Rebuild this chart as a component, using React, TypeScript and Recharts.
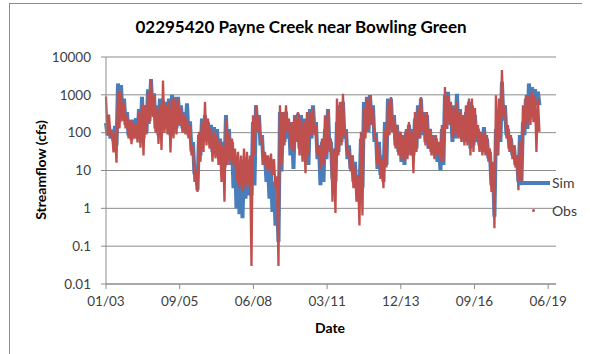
import React from 'react';
import {
  LineChart,
  Line,
  XAxis,
  YAxis,
  CartesianGrid,
} from 'recharts';

// per ~41 day step, the high and low of each series (cfs)
const simHigh = [
  180, 150, 120, 150, 2000, 1800, 800, 350, 190, 220,
  240, 420, 880, 530, 1400, 2600, 1100, 530, 800, 700,
  650, 800, 1000, 880, 880, 530, 350, 600, 200, 56,
  12, 86, 235, 290, 190, 160, 140, 125, 70, 57,
  290, 125, 57, 25, 14, 10, 14, 12, 12, 190,
  530, 290, 86, 25, 14, 10, 5.1, 1.8, 350, 290,
  354, 190, 160, 290, 320, 290, 235, 125, 420, 530,
  190, 46, 57, 125, 420, 57, 25, 190, 530, 650,
  125, 46, 25, 17, 7.5, 70, 650, 880, 980, 530,
  100, 57, 25, 190, 800, 800, 290, 160, 105, 86,
  105, 160, 125, 235, 530, 800, 350, 290, 125, 86,
  70, 46, 125, 980, 1200, 530, 530, 1060, 420, 290,
  350, 650, 530, 290, 125, 105, 140, 70, 31, 14,
  125, 420, 2200, 530, 125, 70, 46, 25, 86, 190,
  800, 2000, 1600, 1400, 1200,
];
const simLow = [
  85, 70, 60, 45, 190, 240, 160, 85, 65, 85,
  70, 55, 70, 100, 200, 310, 130, 85, 100, 130,
  130, 85, 100, 130, 200, 130, 100, 85, 32, 8,
  3, 25, 57, 70, 57, 31, 46, 25, 14, 12,
  25, 14, 3.4, 1.0, 0.7, 0.55, 1.8, 2.2, 2.2, 4,
  125, 46, 14, 5, 1.8, 0.8, 0.35, 0.13, 9.4, 57,
  70, 25, 11, 86, 38, 25, 17, 14, 70, 105,
  20, 4.1, 5, 20, 38, 6, 5, 31, 57, 70,
  20, 11, 5, 3.4, 2.2, 3.4, 105, 105, 210, 57,
  11, 7.7, 5, 14, 125, 105, 46, 31, 17, 14,
  25, 38, 25, 38, 70, 86, 57, 38, 31, 25,
  17, 10, 14, 125, 210, 57, 70, 105, 70, 57,
  57, 38, 46, 57, 46, 31, 38, 21, 4.1, 0.6,
  25, 57, 210, 86, 38, 25, 14, 5, 5, 86,
  125, 530, 650, 530, 530,
];
const obsHigh = [
  900, 300, 110, 100, 1300, 1200, 600, 300, 220, 190,
  180, 350, 550, 530, 1200, 2600, 1000, 450, 550, 2400,
  530, 650, 800, 800, 800, 450, 300, 240, 160, 45,
  10, 105, 190, 650, 235, 130, 105, 86, 57, 46,
  235, 105, 70, 38, 31, 25, 38, 31, 25, 290,
  530, 290, 70, 31, 25, 28, 20, 7, 530, 350,
  530, 235, 190, 265, 350, 235, 190, 350, 350, 450,
  160, 46, 70, 290, 390, 70, 38, 800, 650, 1060,
  105, 38, 25, 14, 7.5, 105, 450, 800, 980, 450,
  70, 46, 20, 125, 650, 880, 235, 160, 105, 86,
  125, 190, 105, 350, 450, 880, 320, 350, 125, 86,
  86, 57, 160, 1600, 980, 650, 450, 650, 350, 290,
  530, 800, 800, 450, 160, 105, 105, 86, 38, 17,
  980, 800, 4500, 530, 160, 86, 46, 25, 57, 530,
  980, 980, 1200, 980, 800,
];
const obsLow = [
  85, 75, 30, 16, 130, 200, 130, 70, 50, 70,
  55, 40, 25, 90, 170, 260, 100, 50, 35, 100,
  90, 30, 70, 90, 150, 100, 90, 70, 25, 5,
  2.7, 17, 31, 46, 38, 17, 21, 14, 5, 1.5,
  14, 17, 14, 5, 3.4, 2.7, 3.4, 4, 0.03, 25,
  105, 57, 14, 11, 9, 7.7, 3.4, 0.03, 14, 46,
  105, 38, 31, 57, 25, 17, 8.5, 25, 86, 86,
  25, 11, 14, 25, 31, 1.5, 0.75, 25, 46, 86,
  25, 9.4, 3.4, 1.5, 0.35, 0.65, 70, 125, 160, 70,
  14, 6, 3.4, 12, 86, 105, 38, 25, 20, 17,
  20, 25, 8.5, 31, 70, 105, 46, 38, 25, 20,
  25, 17, 17, 125, 160, 70, 86, 70, 57, 46,
  46, 25, 31, 70, 31, 25, 25, 17, 2.7, 0.3,
  25, 70, 260, 70, 31, 20, 12, 3, 4.1, 105,
  160, 160, 190, 31, 105,
];

const yTicks = [0.01, 0.1, 1, 10, 100, 1000, 10000];
const xTicks = [0, 1000, 2000, 3000, 4000, 5000, 6000]; // days since 01/01/2003

const STEP = 40.7;
const START = Date.UTC(2003, 0, 1);

const data: { day: number; sim: number; obs: number }[] = [];
simHigh.forEach((v, i) => {
  data.push({ day: i * STEP, sim: v, obs: obsHigh[i] });
  data.push({ day: i * STEP + STEP / 2, sim: simLow[i], obs: obsLow[i] });
});

const fmtDate = (d: number) => {
  const dt = new Date(START + d * 86400000);
  const mm = String(dt.getUTCMonth() + 1).padStart(2, '0');
  const yy = String(dt.getUTCFullYear() % 100).padStart(2, '0');
  return `${mm}/${yy}`;
};

const BLUE = '#4a7ebb';
const RED = '#c0504d';
const GRID = '#8c8c8c';
const TXT = '#404040';

const App: React.FC = () => {
  return (
    <div
      style={{
        position: 'absolute',
        left: 0,
        top: 0,
        width: 590,
        height: 354,
        background: '#fff',
        fontFamily: 'Lato, sans-serif',
        overflow: 'hidden',
      }}
    >
      <div
        style={{
          position: 'absolute',
          left: 9,
          top: 3,
          width: 572,
          height: 400,
          borderLeft: `1px solid ${GRID}`,
          borderTop: `1px solid ${GRID}`,
        }}
      />
      <div
        style={{
          position: 'absolute',
          left: 0,
          top: 16,
          width: 602,
          textAlign: 'center',
          fontWeight: 'bold',
          fontSize: 17,
          color: '#000',
        }}
      >
        02295420 Payne Creek near Bowling Green
      </div>
      <LineChart
        width={590}
        height={354}
        data={data}
        margin={{ top: 57, right: 34, bottom: 40, left: 46 }}
        style={{ position: 'absolute', left: 0, top: 0 }}
      >
        <CartesianGrid vertical={false} stroke={GRID} strokeWidth={1} />
        <XAxis
          dataKey="day"
          type="number"
          domain={[0, 6106]}
          ticks={xTicks}
          tickFormatter={fmtDate}
          height={30}
          tickSize={5}
          tickMargin={7}
          stroke={GRID}
          tick={{ fill: TXT, fontSize: 13.5 }}
          interval={0}
        />
        <YAxis
          scale="log"
          domain={[0.01, 10000]}
          ticks={yTicks}
          allowDataOverflow
          width={60}
          tickSize={5}
          tickMargin={10}
          stroke={GRID}
          tick={{ fill: TXT, fontSize: 13.5 }}
          tickFormatter={(v: number) => String(v)}
          interval={0}
        />
        <Line
          dataKey="sim"
          stroke={BLUE}
          strokeWidth={4}
          dot={false}
          activeDot={false}
          isAnimationActive={false}
        />
        <Line
          dataKey="obs"
          stroke={RED}
          strokeWidth={2.3}
          dot={false}
          activeDot={false}
          isAnimationActive={false}
        />
      </LineChart>
      <div
        style={{
          position: 'absolute',
          left: 41 - 60,
          top: 170 - 9,
          width: 120,
          height: 18,
          lineHeight: '18px',
          textAlign: 'center',
          transform: 'rotate(-90deg)',
          fontWeight: 'bold',
          fontSize: 14,
          color: '#000',
        }}
      >
        Streamflow (cfs)
      </div>
      <div
        style={{
          position: 'absolute',
          left: 280,
          top: 319,
          width: 100,
          textAlign: 'center',
          fontWeight: 'bold',
          fontSize: 14,
          color: '#000',
        }}
      >
        Date
      </div>
      {/* legend */}
      <div style={{ position: 'absolute', left: 518, top: 181, width: 32, height: 4, background: BLUE }} />
      <div style={{ position: 'absolute', left: 552, top: 174, fontSize: 14, color: TXT }}>Sim</div>
      <div
        style={{ position: 'absolute', left: 532, top: 209, width: 3, height: 3, borderRadius: 2, background: RED }}
      />
      <div style={{ position: 'absolute', left: 552, top: 202, fontSize: 14, color: TXT }}>Obs</div>
    </div>
  );
};

export default App;
